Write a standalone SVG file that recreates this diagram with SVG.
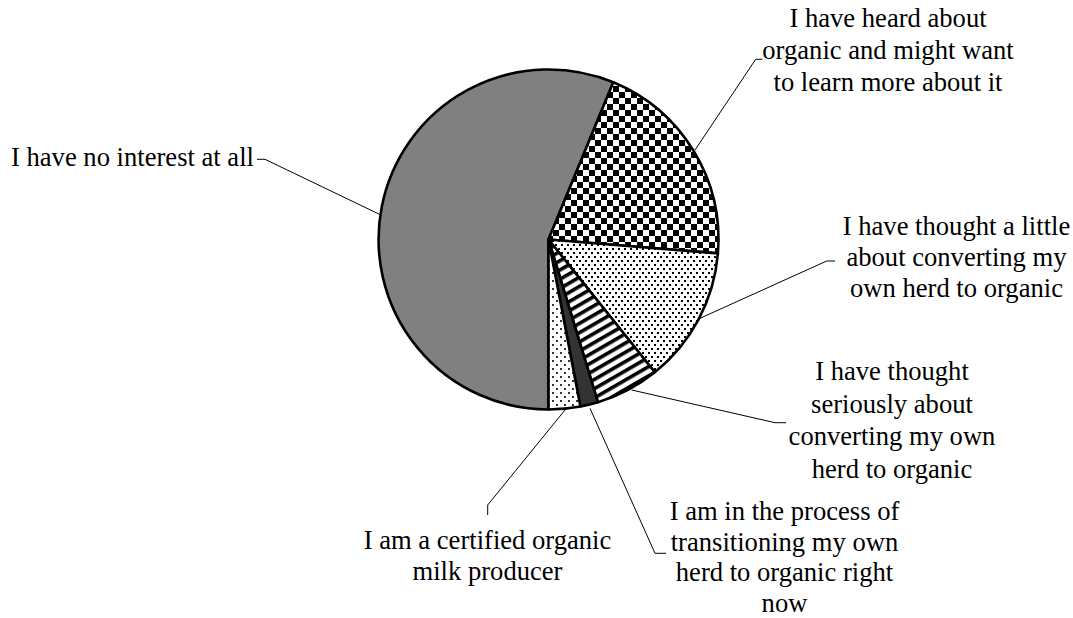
<svg xmlns="http://www.w3.org/2000/svg" width="1073" height="618" viewBox="0 0 1073 618">
<style>
.lbl{font-family:"Liberation Serif","Times New Roman",serif;font-size:26.6px;fill:#000}
.mid{text-anchor:middle}
.slice{stroke:#000;stroke-width:2.6;stroke-linejoin:round}
.lead{fill:none;stroke:#000;stroke-width:1}
</style>
<defs>
<pattern id="checker" width="12" height="12" patternUnits="userSpaceOnUse" x="1" y="2">
<rect width="12" height="12" fill="#fff"/>
<rect width="6" height="6" fill="#000"/>
<rect x="6" y="6" width="6" height="6" fill="#000"/>
</pattern>
<pattern id="finedots" width="6" height="8" patternUnits="userSpaceOnUse">
<rect width="6" height="8" fill="#fff"/>
<rect x="0" y="0" width="2" height="2" fill="#000"/>
<rect x="3" y="4" width="2" height="2" fill="#000"/>
</pattern>
<pattern id="sparsedots" width="8" height="8" patternUnits="userSpaceOnUse">
<rect width="8" height="8" fill="#fff"/>
<rect x="0" y="0" width="2" height="2" fill="#333"/>
<rect x="4" y="4" width="2" height="2" fill="#333"/>
</pattern>
<pattern id="stripes" width="8" height="8" patternUnits="userSpaceOnUse" patternTransform="rotate(-30)">
<rect width="8" height="8" fill="#fff"/>
<rect width="8" height="3.6" fill="#000"/>
</pattern>
</defs>
<rect width="1073" height="618" fill="#fff"/>
<g id="connectors">
<polyline class="lead" points="257,159.3 265,159.3 383,216"/>
<polyline class="lead" points="762.3,59.3 755.7,59.3 695,150"/>
<polyline class="lead" points="835,261 826.7,261 700,318.3"/>
<polyline class="lead" points="631.7,390 775,422.7 786,422.7"/>
<polyline class="lead" points="590,408.3 655,553.3 666,553.3"/>
<polyline class="lead" points="565,410 487.7,505 487.7,515"/>
</g>
<g id="pie">
<g id="slice-no-interest"><path class="slice" fill="#808080" d="M548.5,239.5 L548.5,409.5 A170,170 0 1 1 613.3,82.3 Z"/></g>
<g id="slice-heard"><path class="slice" fill="url(#checker)" d="M548.5,239.5 L613.3,82.3 A170,170 0 0 1 717.9,253.4 Z"/></g>
<g id="slice-thought-little"><path class="slice" fill="url(#finedots)" d="M548.5,239.5 L717.9,253.4 A170,170 0 0 1 654.8,372.2 Z"/></g>
<g id="slice-thought-seriously"><path class="slice" fill="url(#stripes)" d="M548.5,239.5 L654.8,372.2 A170,170 0 0 1 597.9,402.2 Z"/></g>
<g id="slice-transitioning"><path class="slice" fill="#333" d="M548.5,239.5 L597.9,402.2 A170,170 0 0 1 580.4,406.5 Z"/></g>
<g id="slice-certified"><path class="slice" fill="url(#sparsedots)" d="M548.5,239.5 L580.4,406.5 A170,170 0 0 1 548.5,409.5 Z"/></g>
</g>
<g id="label-no-interest"><text class="lbl" x="11" y="166">I have no interest at all</text></g>
<g id="label-heard"><text class="lbl mid" x="888" y="27">I have heard about</text><text class="lbl mid" x="888" y="59">organic and might want</text><text class="lbl mid" x="888" y="91">to learn more about it</text></g>
<g id="label-thought-little"><text class="lbl mid" x="956.5" y="235">I have thought a little</text><text class="lbl mid" x="956.5" y="266">about converting my</text><text class="lbl mid" x="956.5" y="297">own herd to organic</text></g>
<g id="label-thought-seriously"><text class="lbl mid" x="892" y="380">I have thought</text><text class="lbl mid" x="892" y="412.5">seriously about</text><text class="lbl mid" x="892" y="445">converting my own</text><text class="lbl mid" x="892" y="477.5">herd to organic</text></g>
<g id="label-transitioning"><text class="lbl mid" x="784.5" y="520">I am in the process of</text><text class="lbl mid" x="784.5" y="550.5">transitioning my own</text><text class="lbl mid" x="784.5" y="581">herd to organic right</text><text class="lbl mid" x="784.5" y="611.5">now</text></g>
<g id="label-certified"><text class="lbl mid" x="487.5" y="549">I am a certified organic</text><text class="lbl mid" x="487.5" y="580">milk producer</text></g>
</svg>
